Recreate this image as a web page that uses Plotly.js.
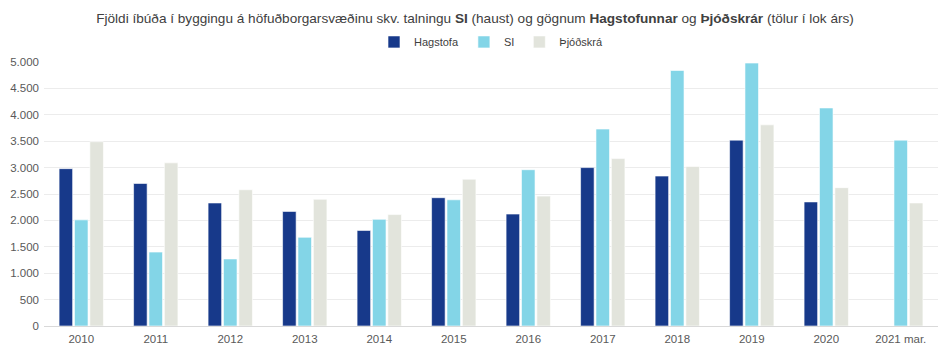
<!DOCTYPE html>
<html>
<head>
<meta charset="utf-8">
<script src="https://cdn.plot.ly/plotly-3.0.1.min.js"></script>
<style>html,body{margin:0;padding:0;background:#fff;}#chart{width:950px;height:353px;}</style>
</head>
<body>
<div id="chart"></div>
<script>
const categories = ["2010","2011","2012","2013","2014","2015","2016","2017","2018","2019","2020","2021 mar."];
const hagstofa = [2980, 2700, 2330, 2170, 1810, 2430, 2120, 3000, 2840, 3520, 2350, null];
const si = [2010, 1400, 1270, 1680, 2020, 2390, 2960, 3730, 4840, 4980, 4130, 3520];
const thjodskra = [3490, 3090, 2580, 2400, 2110, 2780, 2460, 3170, 3020, 3810, 2620, 2330];
const yTicks = [0, 500, 1000, 1500, 2000, 2500, 3000, 3500, 4000, 4500, 5000];

const mk = (name, y, color) => ({
  type: 'bar', name: name, x: categories, y: y,
  marker: {color: color, line: {color: '#ffffff', width: 0.6}},
  hoverinfo: 'x+y+name'
});

const data = [
  mk('Hagstofa', hagstofa, '#17398a'),
  mk('SI', si, '#83d5e7'),
  mk('Þjóðskrá', thjodskra, '#e2e4dc')
];

const layout = {
  width: 950, height: 353,
  margin: {l: 44, r: 12, t: 62, b: 27},
  paper_bgcolor: '#ffffff', plot_bgcolor: '#ffffff',
  font: {family: 'Liberation Sans, Arial, sans-serif', color: '#595959', size: 11},
  separators: ',.',
  title: {
    text: 'Fjöldi íbúða í byggingu á höfuðborgarsvæðinu skv. talningu <b>SI</b> (haust) og gögnum <b>Hagstofunnar</b> og <b>Þjóðskrár</b> (tölur í lok árs)',
    font: {size: 13.6, color: '#404040', family: 'Liberation Sans, Arial, sans-serif'},
    x: 0.5, xanchor: 'center', y: 1 - 18/353, yref: 'container', yanchor: 'middle'
  },
  legend: {
    orientation: 'h', x: 0.5, xanchor: 'center', y: 1.076, yanchor: 'middle',
    font: {size: 11, color: '#404040'}, itemwidth: 30, traceorder: 'normal'
  },
  barmode: 'group', bargap: 0.38, bargroupgap: 0.12,
  xaxis: {
    type: 'category', showgrid: false, showline: true, linecolor: '#d9d9d9', linewidth: 1,
    ticks: '', tickfont: {size: 11.5, color: '#595959'}, zeroline: false, ticklabelstandoff: 2
  },
  yaxis: {
    range: [0, 5000], tickvals: yTicks, tickformat: ',d', showgrid: true, gridcolor: '#ececec',
    gridwidth: 1, zeroline: true, zerolinecolor: '#d9d9d9', zerolinewidth: 1,
    ticks: '', tickfont: {size: 11.5, color: '#595959'}, ticklabelstandoff: 4
  },
  showlegend: true
};

Plotly.newPlot('chart', data, layout, {displayModeBar: false, staticPlot: true});
</script>
</body>
</html>
